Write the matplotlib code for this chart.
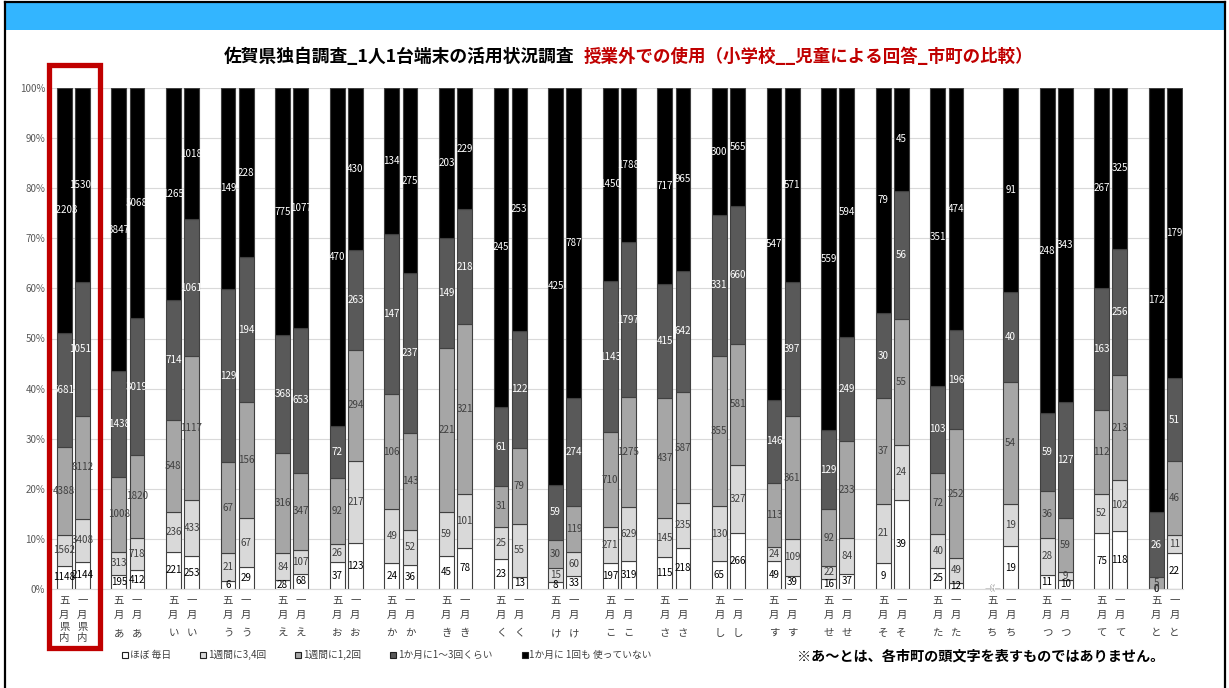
import matplotlib
matplotlib.use('Agg')
import matplotlib.pyplot as plt
from matplotlib.patches import Rectangle, Patch
import numpy as np

plt.rcParams['font.family'] = ['Noto Sans CJK JP', 'DejaVu Sans']

# categories (市町) and months
groups = ['県内', 'あ', 'い', 'う', 'え', 'お', 'か', 'き', 'く', 'け', 'こ',
          'さ', 'し', 'す', 'せ', 'そ', 'た', 'ち', 'つ', 'て', 'と']
months = ['五月', '一月']
series_names = ['ほぼ 毎日', '1週間に3,4回', '1週間に1,2回',
                '1か月に1～3回くらい', '1か月に 1回も 使っていない']

# 五月 (May) counts
may_daily = [1148, 195, 221, 6, 28, 37, 24, 45, 23, 8, 197, 115, 65, 49, 16, 9, 25, 0, 11, 75, 0]
may_34 = [1562, 313, 236, 21, 84, 26, 49, 59, 25, 15, 271, 145, 130, 24, 22, 21, 40, 0, 28, 52, 0]
may_12 = [4388, 1008, 548, 67, 316, 92, 106, 221, 31, 30, 710, 437, 355, 113, 92, 37, 72, 0, 36, 112, 5]
may_month = [5681, 1438, 714, 129, 368, 72, 147, 149, 61, 59, 1143, 415, 331, 146, 129, 30, 103, 0, 59, 163, 26]
may_never = [12203, 3847, 1265, 149, 775, 470, 134, 203, 245, 425, 1450, 717, 300, 547, 559, 79, 351, 0, 248, 267, 172]

# 一月 (January) counts
jan_daily = [2144, 412, 253, 29, 68, 123, 36, 78, 13, 33, 319, 218, 266, 39, 37, 39, 12, 19, 10, 118, 22]
jan_34 = [3408, 718, 433, 67, 107, 217, 52, 101, 55, 60, 629, 235, 327, 109, 84, 24, 49, 19, 9, 102, 11]
jan_12 = [8112, 1820, 1117, 156, 347, 294, 143, 321, 79, 119, 1275, 587, 581, 361, 233, 55, 252, 54, 59, 213, 46]
jan_month = [10511, 3019, 1061, 194, 653, 263, 237, 218, 122, 274, 1797, 642, 660, 397, 249, 56, 196, 40, 127, 256, 51]
jan_never = [15301, 5068, 1018, 228, 1077, 430, 275, 229, 253, 787, 1788, 965, 565, 571, 594, 45, 474, 91, 343, 325, 179]

may = np.array([may_daily, may_34, may_12, may_month, may_never], dtype=float)
jan = np.array([jan_daily, jan_34, jan_12, jan_month, jan_never], dtype=float)

fills = ['#ffffff', '#d9d9d9', '#a6a6a6', '#595959', '#000000']
txt_colors = ['#000000', '#404040', '#404040', '#ffffff', '#ffffff']

W, H = 1229, 688
fig = plt.figure(figsize=(W / 100, H / 100), dpi=100)

# header band and frame
fig.patches.append(Rectangle((6 / W, 1 - 30 / H), 1218 / W, 27 / H, transform=fig.transFigure,
                             facecolor='#33b5ff', edgecolor='none', zorder=0))
fig.add_artist(plt.Line2D([5 / W, 5 / W], [0, 1 - 2 / H], color='black', lw=1.6))
fig.add_artist(plt.Line2D([1225 / W, 1225 / W], [0, 1 - 2 / H], color='black', lw=1.6))
fig.add_artist(plt.Line2D([5 / W, 1225 / W], [1 - 2 / H, 1 - 2 / H], color='black', lw=1.6))

ax = fig.add_axes([50 / W, 1 - 589 / H, (1183 - 50) / W, 501 / H])
bw = 0.82

for k, data in enumerate([may, jan]):
    xs = np.arange(len(groups)) * 3 + k
    tot = data.sum(axis=0)
    tot[tot == 0] = 1
    pct = data / tot * 100
    bottom = np.zeros(len(groups))
    for s in range(5):
        ax.bar(xs, pct[s], bw, bottom=bottom, color=fills[s], edgecolor='#404040',
               linewidth=0.8, zorder=2)
        for x, b, h, v in zip(xs, bottom, pct[s], data[s]):
            ax.text(x, b + h / 2, '%d' % v, ha='center', va='center', fontsize=7.1,
                    color=txt_colors[s], zorder=3)
        bottom += pct[s]

ax.set_xlim(-0.78, 61.47)
ax.set_ylim(0, 100)
ax.set_yticks(np.arange(0, 101, 10))
ax.set_yticklabels(['%d%%' % v for v in range(0, 101, 10)], fontsize=7, color='#595959')
ax.tick_params(axis='y', length=0, pad=3.5)
ax.set_xticks([])
ax.yaxis.grid(True, color='#d9d9d9', lw=0.8, zorder=0)
ax.set_axisbelow(True)
for sp in ['left', 'right', 'top']:
    ax.spines[sp].set_visible(False)
ax.spines['bottom'].set_color('#d9d9d9')

# vertical category labels
tr = ax.get_xaxis_transform()
for i, g in enumerate(groups):
    for k, m in enumerate(months):
        x = i * 3 + k
        chars = list(m) + list(g)
        if len(g) == 2:
            ys = [600.7, 614.7, 627, 637.5]
        else:
            ys = [600.7, 614.7, 633]
        for c, yp in zip(chars, ys):
            ax.text(x, (589 - yp) / 501, c, transform=tr, ha='center', va='center',
                    fontsize=7.5, color='#404040')

# red highlight box around 県内
fig.patches.append(Rectangle((49 / W, 1 - 648 / H), 51 / W, 583.5 / H, transform=fig.transFigure,
                             facecolor='none', edgecolor='#c00000', lw=3.8, zorder=5))

# title
fig.text(574 / W, 1 - 57 / H, '佐賀県独自調査_1人1台端末の活用状況調査', ha='right', va='center',
         fontsize=12.8, fontweight='bold', color='black')
fig.text(584 / W, 1 - 57 / H, '授業外での使用（小学校__児童による回答_市町の比較）', ha='left',
         va='center', fontsize=12.6, fontweight='bold', color='#c00000')

# legend
handles = [Patch(facecolor=fills[s], edgecolor='#202020', lw=0.8) for s in range(5)]
fig.legend(handles, series_names, loc='center left', bbox_to_anchor=(118 / W, 1 - 655 / H),
           ncol=5, frameon=False, fontsize=7, handlelength=0.6, handleheight=0.6,
           handletextpad=0.2, columnspacing=3.0, labelcolor='#404040', borderaxespad=0)

fig.text(797 / W, 1 - 657 / H, '※あ～とは、各市町の頭文字を表すものではありません。', ha='left',
         va='center', fontsize=10.2, fontweight='bold', color='black')

fig.savefig('out.png', dpi=100)
